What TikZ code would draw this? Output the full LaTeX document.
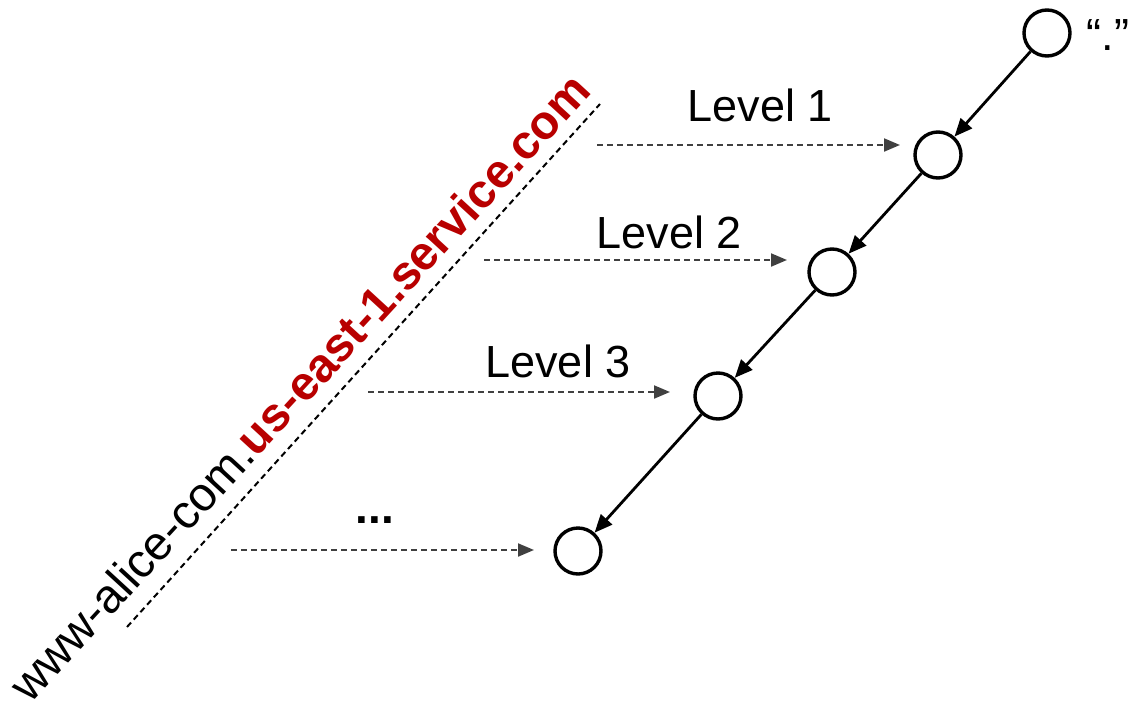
\documentclass[tikz,border=0pt]{standalone}
\usepackage{fontspec}
\setmainfont{Liberation Sans}
\usetikzlibrary{arrows.meta}
\definecolor{dred}{HTML}{B80000}
\definecolor{dgray}{HTML}{404040}
\begin{document}
\begin{tikzpicture}[x=1pt,y=-1pt,
  circ/.style={circle,draw=black,line width=3.4pt,minimum size=46pt,inner sep=0pt},
  tree/.style={line width=2.8pt,-{Triangle[length=18pt,width=15pt]}},
  lvl/.style={dgray,line width=2pt,dash pattern=on 6pt off 4pt,-{Triangle[length=16pt,width=13pt]}},
  lbl/.style={font=\fontsize{45}{50}\selectfont,inner sep=0pt}]
\useasboundingbox (0,0) rectangle (1133,710);
\node[circ] (n0) at (1047,33) {};
\node[circ] (n1) at (938,155) {};
\node[circ] (n2) at (832,272) {};
\node[circ] (n3) at (718,396) {};
\node[circ] (n4) at (578,551) {};
\node[lbl] (dot) at (1108,35) {“.”};
\draw[tree] (n0) -- (n1);
\draw[tree] (n1) -- (n2);
\draw[tree] (n2) -- (n3);
\draw[tree] (n3) -- (n4);
\coordinate (a1) at (597,145); \coordinate (b1) at (900,145);
\coordinate (a2) at (484,260); \coordinate (b2) at (787,260);
\coordinate (a3) at (368,392); \coordinate (b3) at (670,392);
\coordinate (a4) at (231,550); \coordinate (b4) at (534,550);
\draw[lvl] (a1) -- (b1);
\draw[lvl] (a2) -- (b2);
\draw[lvl] (a3) -- (b3);
\draw[lvl] (a4) -- (b4);
\node[lbl] (l1) at (760.5,105) {Level 1};
\node[lbl] (l2) at (669.5,232) {Level 2};
\node[lbl] (l3) at (558,361) {Level 3};
\node[lbl,font=\fontsize{46}{50}\selectfont\bfseries] (l4) at (375,520) {...};
\coordinate (d1) at (127,627);
\coordinate (d2) at (600,104);
\draw[black,line width=2pt,dash pattern=on 6pt off 4pt] (d1) -- (d2);
\node[inner sep=0pt,anchor=base west,rotate=47.4,font=\fontsize{47.5}{52}\selectfont] (name) at (30,705) {www-alice-com.\textcolor{dred}{\bfseries us-east-1.service.com}};
\end{tikzpicture}
\end{document}
